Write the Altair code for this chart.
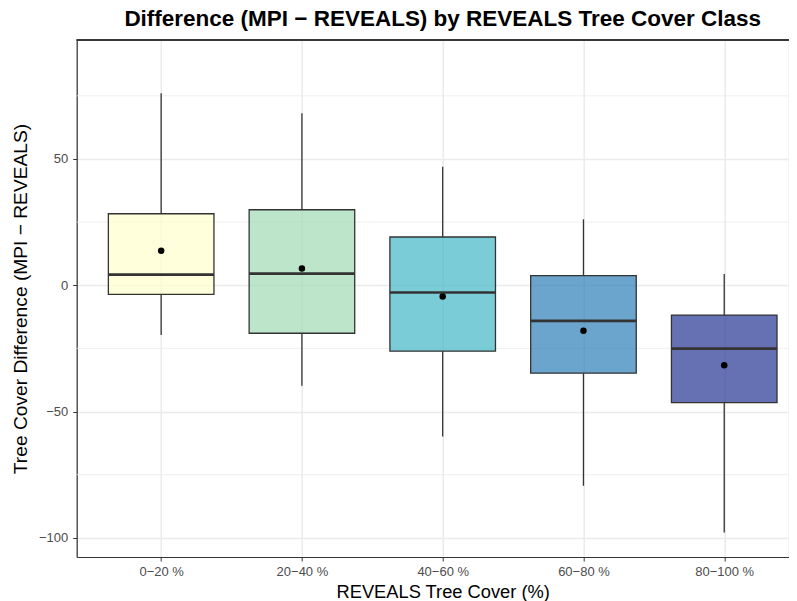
import altair as alt
import pandas as pd

# ---- data ----
classes = ["0\u221220 %", "20\u221240 %", "40\u221260 %", "60\u221280 %", "80\u2212100 %"]
whisker_low = [-19.7, -39.8, -59.9, -79.4, -97.9]
q1 = [-3.6, -19.0, -26.1, -34.8, -46.5]
median = [4.2, 4.6, -2.9, -14.1, -25.1]
q3 = [28.3, 29.9, 19.1, 3.8, -11.8]
whisker_high = [76.0, 68.1, 46.9, 26.1, 4.5]
mean = [13.7, 6.6, -4.5, -18.0, -31.7]
fill_colors = ["#ffffcc", "#a1dab4", "#41b6c4", "#2c7fb8", "#253494"]
y_ticks = [-100, -50, 0, 50]
y_minor = [-75, -25, 25, 75]

df = pd.DataFrame({
    "cls": classes, "idx": list(range(len(classes))),
    "lo": whisker_low, "q1": q1, "med": median,
    "q3": q3, "hi": whisker_high, "mean": mean,
})
minor_df = pd.DataFrame({"v": y_minor})

FONT = "Liberation Sans"
W, H = 712, 517
FULL_W = 732          # panel continues past the right edge of the picture
BOX_HALF = 0.375      # boxes are 0.75 of a category step
x_lo = -0.6
x_hi = x_lo + (len(classes) - 1 + 1.2) * W / FULL_W

label_expr = "[" + ",".join("'" + c + "'" for c in classes) + "][datum.value]"

x_scale = alt.Scale(domain=[x_lo, x_hi], nice=False, zero=False)
x_axis = alt.Axis(
    title="REVEALS Tree Cover (%)", values=list(range(len(classes))),
    labelExpr=label_expr, labelAngle=0,
    grid=True, gridColor="#EBEBEB", gridWidth=1.5,
    domainColor="#333333", domainWidth=1.2,
    tickColor="#333333", tickSize=4, tickWidth=1,
    labelColor="#4D4D4D", labelFontSize=13, labelPadding=5, labelFont=FONT,
    titleFont=FONT, titleFontSize=18.3, titleFontWeight="normal",
    titleColor="black", titlePadding=5, titleX=FULL_W / 2,
)
y_scale = alt.Scale(domain=[-107.6, 97.1], nice=False, zero=False)
y_axis = alt.Axis(
    title="Tree Cover Difference (MPI \u2212 REVEALS)", values=y_ticks,
    grid=True, gridColor="#EBEBEB", gridWidth=1.5,
    domainColor="#333333", domainWidth=1.2,
    tickColor="#333333", tickSize=4, tickWidth=1,
    labelColor="#4D4D4D", labelFontSize=13, labelPadding=5, labelFont=FONT,
    titleFont=FONT, titleFontSize=19.2, titleFontWeight="normal",
    titleColor="black", titlePadding=8,
)

base = alt.Chart(df).transform_calculate(
    xl=f"datum.idx - {BOX_HALF}", xr=f"datum.idx + {BOX_HALF}"
)

minor = alt.Chart(minor_df).mark_rule(color="#EBEBEB", strokeWidth=0.8).encode(
    y=alt.Y("v:Q", scale=y_scale, axis=y_axis)
)

whisk_lo = base.mark_rule(color="#333333", strokeWidth=1.3).encode(
    x=alt.X("idx:Q", scale=x_scale, axis=x_axis),
    y=alt.Y("lo:Q", scale=y_scale, axis=y_axis), y2="q1:Q",
)
whisk_hi = base.mark_rule(color="#333333", strokeWidth=1.3).encode(
    x=alt.X("idx:Q", scale=x_scale, axis=x_axis),
    y=alt.Y("q3:Q", scale=y_scale, axis=y_axis), y2="hi:Q",
)
box = base.mark_rect(stroke="#333333", strokeWidth=1.3, fillOpacity=0.7).encode(
    x=alt.X("xl:Q", scale=x_scale, axis=x_axis), x2="xr:Q",
    y=alt.Y("q1:Q", scale=y_scale, axis=y_axis), y2="q3:Q",
    fill=alt.Fill("cls:N", sort=classes,
                  scale=alt.Scale(domain=classes, range=fill_colors), legend=None),
)
med = base.mark_rule(color="#333333", strokeWidth=2.6).encode(
    x=alt.X("xl:Q", scale=x_scale, axis=x_axis), x2="xr:Q",
    y=alt.Y("med:Q", scale=y_scale, axis=y_axis),
)
pts = base.mark_point(filled=True, color="black", size=42, opacity=1).encode(
    x=alt.X("idx:Q", scale=x_scale, axis=x_axis),
    y=alt.Y("mean:Q", scale=y_scale, axis=y_axis),
)
top_border = base.mark_rule(color="#333333", strokeWidth=1.2).encode(
    x=alt.value(0), x2=alt.value(FULL_W), y=alt.value(0)
)

chart = alt.layer(minor, whisk_lo, whisk_hi, box, med, pts, top_border).properties(
    width=W, height=H,
    autosize=alt.AutoSizeParams(type="none"),
    padding={"left": 68.7, "top": 32, "right": 0, "bottom": 50},
    title=alt.TitleParams(
        "Difference (MPI \u2212 REVEALS) by REVEALS Tree Cover Class",
        font=FONT, fontSize=22.5, fontWeight="bold", color="black",
        anchor="middle", offset=9, dx=FULL_W / 2 - W / 2,
    ),
).configure_view(stroke=None).configure(background="white")

chart.save("out.html", embed_options={"renderer": "svg", "actions": False})
